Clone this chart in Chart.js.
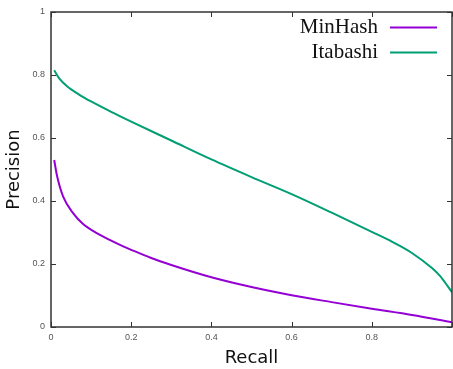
<!DOCTYPE html>
<html>
<head>
<meta charset="utf-8">
<script src="https://cdn.jsdelivr.net/npm/chart.js@4/dist/chart.umd.min.js"></script>
<style>
  html, body { margin: 0; padding: 0; background: #fff; }
  #wrap { width: 453px; height: 369px; }
</style>
</head>
<body>
<div id="wrap"><canvas id="myChart" width="453" height="369"></canvas></div>
<script>
// Curve data (recall on x, precision on y)
const minhashRecall = [0.008, 0.015, 0.03, 0.056, 0.08, 0.114, 0.15, 0.18, 0.2, 0.25, 0.3, 0.4, 0.5, 0.6, 0.7, 0.8, 0.9, 1.0];
const minhashPrecision = [0.53, 0.48, 0.415, 0.36, 0.327, 0.298, 0.274, 0.256, 0.245, 0.219, 0.197, 0.158, 0.127, 0.101, 0.079, 0.058, 0.038, 0.015];

const itabashiRecall = [0.008, 0.02, 0.04, 0.07, 0.1, 0.15, 0.2, 0.3, 0.4, 0.5, 0.6, 0.7, 0.8, 0.85, 0.9, 0.95, 0.97, 0.99, 1.0];
const itabashiPrecision = [0.815, 0.79, 0.764, 0.738, 0.716, 0.683, 0.652, 0.592, 0.532, 0.476, 0.422, 0.363, 0.302, 0.271, 0.235, 0.187, 0.162, 0.128, 0.11];

const seriesNames = ['MinHash', 'Itabashi'];
const seriesColors = ['#9400d3', '#009e73'];
const tickValues = [0, 0.2, 0.4, 0.6, 0.8, 1];

function toPoints(xs, ys) {
    return xs.map((x, i) => ({ x: x, y: ys[i] }));
}

// gnuplot style frame with inward ticks on all four sides
const framePlugin = {
    id: 'frame',
    afterDraw(chart) {
        const ctx = chart.ctx;
        const a = chart.chartArea;
        const xs = chart.scales.x;
        const ys = chart.scales.y;
        ctx.save();
        ctx.strokeStyle = '#333';
        ctx.lineWidth = 1.5;
        ctx.strokeRect(a.left, a.top, a.right - a.left, a.bottom - a.top);
        ctx.lineWidth = 1;
        const len = 5;
        tickValues.forEach(v => {
            const px = Math.round(xs.getPixelForValue(v)) + 0.5;
            const py = Math.round(ys.getPixelForValue(v)) + 0.5;
            ctx.beginPath();
            ctx.moveTo(px, a.bottom); ctx.lineTo(px, a.bottom - len);
            ctx.moveTo(px, a.top); ctx.lineTo(px, a.top + len);
            ctx.moveTo(a.left, py); ctx.lineTo(a.left + len, py);
            ctx.moveTo(a.right, py); ctx.lineTo(a.right - len, py);
            ctx.stroke();
        });
        ctx.restore();
    }
};

// key in the top right: text first, then the line sample
const keyPlugin = {
    id: 'key',
    afterDraw(chart) {
        const ctx = chart.ctx;
        ctx.save();
        ctx.font = '21px "Liberation Serif"';
        ctx.textAlign = 'right';
        ctx.textBaseline = 'middle';
        chart.data.datasets.forEach((ds, i) => {
            const y = 27 + i * 25;
            ctx.fillStyle = '#111';
            ctx.fillText(ds.label, 378, y);
            ctx.strokeStyle = ds.borderColor;
            ctx.lineWidth = 2;
            ctx.beginPath();
            ctx.moveTo(390, y + 0.5);
            ctx.lineTo(437, y + 0.5);
            ctx.stroke();
        });
        ctx.restore();
    }
};

const ctx = document.getElementById('myChart').getContext('2d');
const myChart = new Chart(ctx, {
    type: 'line',
    data: {
        datasets: [
            {
                label: seriesNames[0],
                data: toPoints(minhashRecall, minhashPrecision),
                borderColor: seriesColors[0],
                borderWidth: 2,
                pointRadius: 0,
                cubicInterpolationMode: 'monotone'
            },
            {
                label: seriesNames[1],
                data: toPoints(itabashiRecall, itabashiPrecision),
                borderColor: seriesColors[1],
                borderWidth: 2,
                pointRadius: 0,
                cubicInterpolationMode: 'monotone'
            }
        ]
    },
    options: {
        responsive: false,
        animation: false,
        layout: { padding: { top: 12, right: 1, left: 0, bottom: 0 } },
        plugins: {
            legend: { display: false },
            tooltip: { enabled: false }
        },
        scales: {
            x: {
                type: 'linear',
                min: 0,
                max: 1,
                grid: { display: false, drawTicks: false },
                border: { display: false },
                afterFit(scale) { scale.height = 42; },
                afterBuildTicks(scale) {
                    scale.ticks = tickValues.slice(0, 5).map(v => ({ value: v }));
                },
                ticks: {
                    padding: 5,
                    maxRotation: 0,
                    color: '#555',
                    font: { family: 'Liberation Sans', size: 9 },
                    callback: v => String(v)
                },
                title: {
                    display: true,
                    text: 'Recall',
                    color: '#111',
                    padding: { top: 0, bottom: 0 },
                    font: { family: 'DejaVu Sans', size: 18 }
                }
            },
            y: {
                min: 0,
                max: 1,
                grid: { display: false, drawTicks: false },
                border: { display: false },
                afterFit(scale) { scale.width = 51; },
                afterBuildTicks(scale) {
                    scale.ticks = tickValues.map(v => ({ value: v }));
                },
                ticks: {
                    padding: 6,
                    color: '#555',
                    font: { family: 'Liberation Sans', size: 9 },
                    callback: v => String(v)
                },
                title: {
                    display: true,
                    text: 'Precision',
                    color: '#111',
                    padding: { top: 4, bottom: 0 },
                    font: { family: 'DejaVu Sans', size: 18 }
                }
            }
        }
    },
    plugins: [framePlugin, keyPlugin]
});
</script>
</body>
</html>
